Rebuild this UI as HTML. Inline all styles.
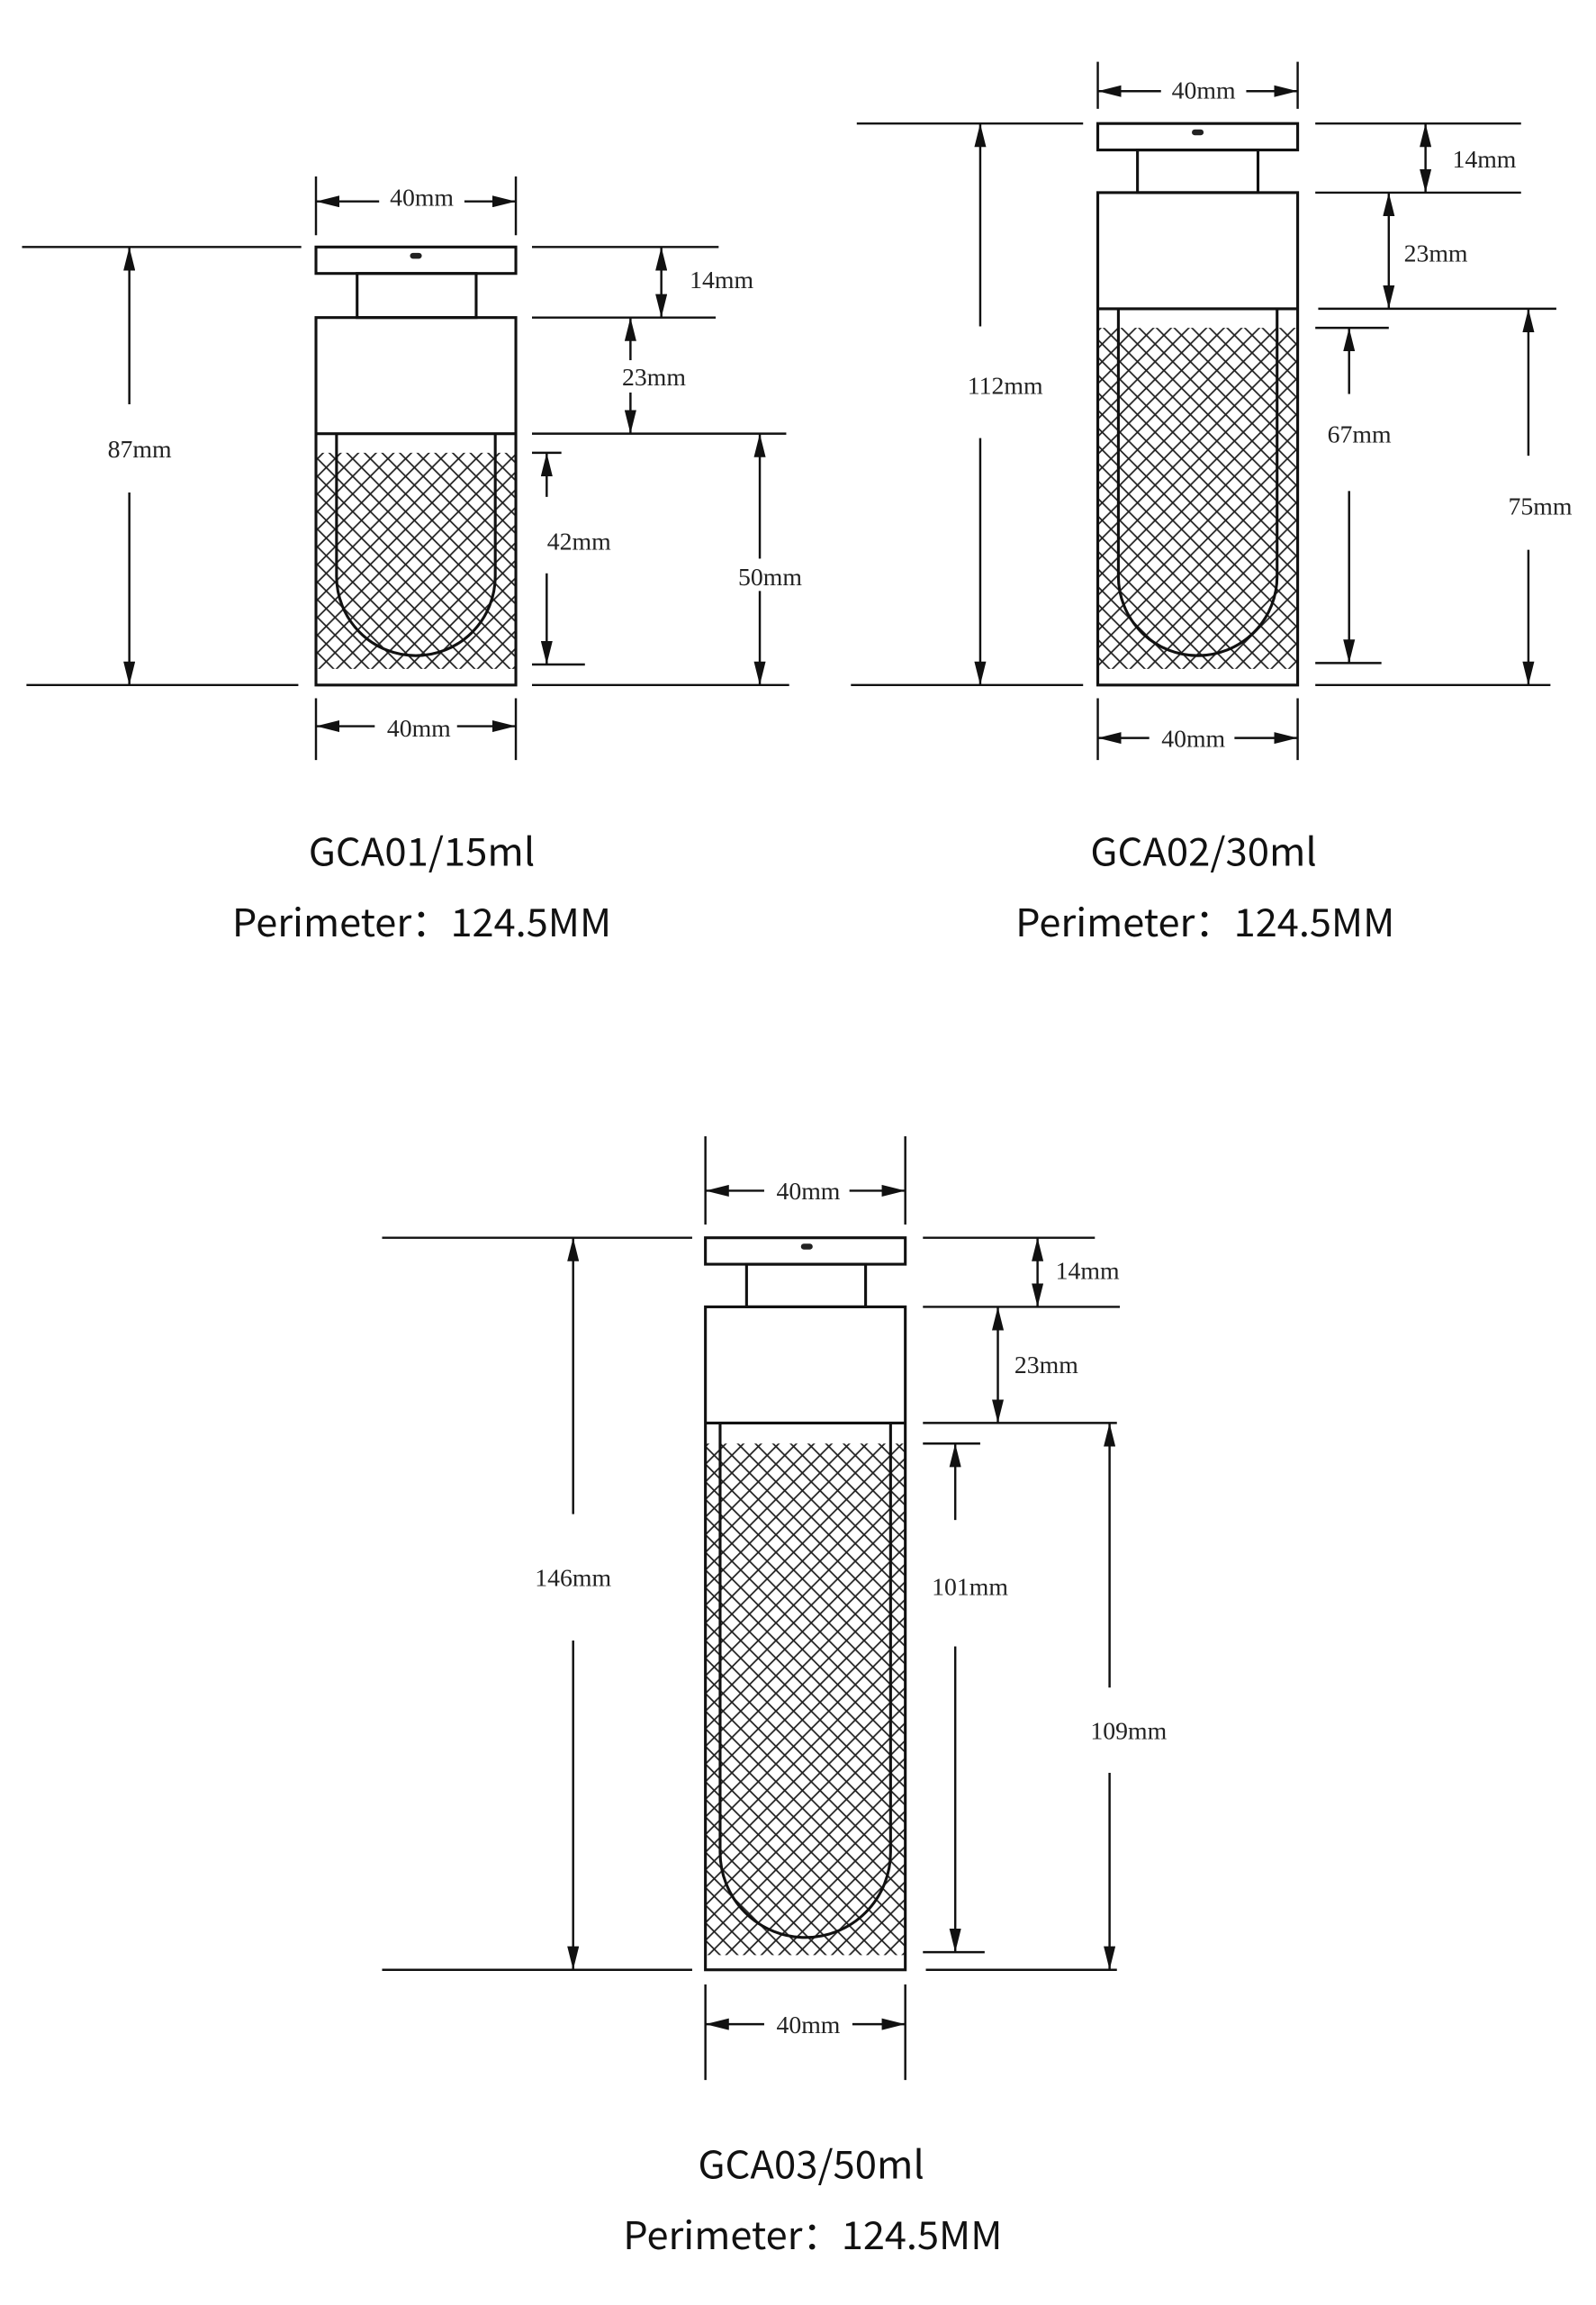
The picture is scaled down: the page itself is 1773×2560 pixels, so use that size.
<!DOCTYPE html>
<html><head><meta charset="utf-8"><style>
html,body{margin:0;padding:0;background:#fff}
svg{display:block}
.d{font-family:"Liberation Serif",serif;font-size:17px;fill:#222;text-anchor:middle}
.t{font-family:"Noto Sans CJK SC","Liberation Sans",sans-serif;font-size:26px;fill:#111;text-anchor:middle}
</style></head><body>
<svg width="1773" height="2560" viewBox="0 0 1086 1568" xmlns="http://www.w3.org/2000/svg">
<defs>
<marker id="a" viewBox="0 0 16 8" refX="16" refY="4" markerWidth="16" markerHeight="8" markerUnits="userSpaceOnUse" orient="auto-start-reverse"><path d="M0,0 L16,4 L0,8z" fill="#111"/></marker>
<pattern id="h" width="12" height="12" patternUnits="userSpaceOnUse"><path d="M0,0L12,12M12,0L0,12" stroke="#222" stroke-width="1.1" fill="none"/></pattern>
</defs>
<g stroke="#111" stroke-width="1.9" fill="none">
<rect x="215" y="308" width="136" height="147" fill="url(#h)" stroke="none"/>
<rect x="215" y="168" width="136" height="18"/>
<rect x="243" y="186" width="81" height="30"/>
<rect x="215" y="216" width="136" height="250"/>
<line x1="215" y1="295" x2="351" y2="295"/>
<path d="M229,295 V392 A54,54 0 0 0 337,392 V295"/>
<rect x="747" y="223" width="136" height="232" fill="url(#h)" stroke="none"/>
<rect x="747" y="84" width="136" height="18"/>
<rect x="774" y="102" width="82" height="29"/>
<rect x="747" y="131" width="136" height="335"/>
<line x1="747" y1="210" x2="883" y2="210"/>
<path d="M761,210 V392 A54,54 0 0 0 869,392 V210"/>
<rect x="480" y="982" width="136" height="348" fill="url(#h)" stroke="none"/>
<rect x="480" y="842" width="136" height="18"/>
<rect x="508" y="860" width="81" height="29"/>
<rect x="480" y="889" width="136" height="451"/>
<line x1="480" y1="968" x2="616" y2="968"/>
<path d="M490,968 V1260 A58,58 0 0 0 606,1260 V968"/>
</g>
<g fill="#222"><rect x="279" y="172" width="8" height="4" rx="2"/><rect x="811" y="88" width="8" height="4" rx="2"/><rect x="545" y="846" width="8" height="4" rx="2"/></g>
<g stroke="#111" stroke-width="1.5">
<line x1="215" y1="120" x2="215" y2="160"/><line x1="351" y1="120" x2="351" y2="160"/>
<line x1="15" y1="168" x2="205" y2="168"/><line x1="18" y1="466" x2="203" y2="466"/>
<line x1="362" y1="168" x2="489" y2="168"/><line x1="362" y1="216" x2="487" y2="216"/>
<line x1="362" y1="295" x2="535" y2="295"/><line x1="362" y1="308" x2="382" y2="308"/>
<line x1="362" y1="452" x2="398" y2="452"/><line x1="362" y1="466" x2="537" y2="466"/>
<line x1="215" y1="475" x2="215" y2="517"/><line x1="351" y1="475" x2="351" y2="517"/>
<line x1="747" y1="42" x2="747" y2="74"/><line x1="883" y1="42" x2="883" y2="74"/>
<line x1="583" y1="84" x2="737" y2="84"/><line x1="579" y1="466" x2="737" y2="466"/>
<line x1="895" y1="84" x2="1035" y2="84"/><line x1="895" y1="131" x2="1035" y2="131"/>
<line x1="897" y1="210" x2="1059" y2="210"/><line x1="895" y1="223" x2="945" y2="223"/>
<line x1="895" y1="451" x2="940" y2="451"/><line x1="895" y1="466" x2="1055" y2="466"/>
<line x1="747" y1="475" x2="747" y2="517"/><line x1="883" y1="475" x2="883" y2="517"/>
<line x1="480" y1="773" x2="480" y2="833"/><line x1="616" y1="773" x2="616" y2="833"/>
<line x1="260" y1="842" x2="471" y2="842"/><line x1="260" y1="1340" x2="471" y2="1340"/>
<line x1="628" y1="842" x2="745" y2="842"/><line x1="628" y1="889" x2="762" y2="889"/>
<line x1="628" y1="968" x2="760" y2="968"/><line x1="628" y1="982" x2="667" y2="982"/>
<line x1="628" y1="1328" x2="670" y2="1328"/><line x1="630" y1="1340" x2="760" y2="1340"/>
<line x1="480" y1="1350" x2="480" y2="1415"/><line x1="616" y1="1350" x2="616" y2="1415"/>
</g>
<g stroke="#111" stroke-width="1.5" marker-start="url(#a)" marker-end="url(#a)">
<line x1="215" y1="137" x2="351" y2="137"/>
<line x1="88" y1="168" x2="88" y2="466"/>
<line x1="450" y1="168" x2="450" y2="216"/>
<line x1="429" y1="216" x2="429" y2="295"/>
<line x1="372" y1="308" x2="372" y2="452"/>
<line x1="517" y1="295" x2="517" y2="466"/>
<line x1="215" y1="494" x2="351" y2="494"/>
<line x1="747" y1="62" x2="883" y2="62"/>
<line x1="667" y1="84" x2="667" y2="466"/>
<line x1="970" y1="84" x2="970" y2="131"/>
<line x1="945" y1="131" x2="945" y2="210"/>
<line x1="918" y1="223" x2="918" y2="451"/>
<line x1="1040" y1="210" x2="1040" y2="466"/>
<line x1="747" y1="502" x2="883" y2="502"/>
<line x1="480" y1="810" x2="616" y2="810"/>
<line x1="390" y1="842" x2="390" y2="1340"/>
<line x1="706" y1="842" x2="706" y2="889"/>
<line x1="679" y1="889" x2="679" y2="968"/>
<line x1="650" y1="982" x2="650" y2="1328"/>
<line x1="755" y1="968" x2="755" y2="1340"/>
<line x1="480" y1="1377" x2="616" y2="1377"/>
</g>
<g fill="#fff">
<rect x="258" y="125" width="58" height="22"/><rect x="60" y="275" width="56" height="60"/>
<rect x="414" y="245" width="60" height="22"/><rect x="362" y="338" width="60" height="52"/>
<rect x="494" y="380" width="60" height="22"/><rect x="255" y="484" width="56" height="22"/>
<rect x="790" y="50" width="58" height="22"/><rect x="650" y="222" width="70" height="76"/>
<rect x="898" y="268" width="60" height="66"/><rect x="1018" y="310" width="60" height="64"/>
<rect x="782" y="490" width="58" height="22"/>
<rect x="520" y="798" width="58" height="22"/><rect x="355" y="1030" width="70" height="86"/>
<rect x="626" y="1034" width="70" height="86"/><rect x="735" y="1148" width="68" height="58"/>
<rect x="520" y="1365" width="60" height="22"/>
</g>
<g class="d">
<text x="287" y="140">40mm</text><text x="95" y="311">87mm</text>
<text x="491" y="196">14mm</text><text x="445" y="262">23mm</text>
<text x="394" y="374">42mm</text><text x="524" y="398">50mm</text>
<text x="285" y="501">40mm</text>
<text x="819" y="67">40mm</text><text x="684" y="268">112mm</text>
<text x="1010" y="114">14mm</text><text x="977" y="178">23mm</text>
<text x="925" y="301">67mm</text><text x="1048" y="350">75mm</text>
<text x="812" y="508">40mm</text>
<text x="550" y="816">40mm</text><text x="390" y="1079">146mm</text>
<text x="740" y="870">14mm</text><text x="712" y="934">23mm</text>
<text x="660" y="1085">101mm</text><text x="768" y="1183">109mm</text>
<text x="550" y="1383">40mm</text>
</g>
<g class="t">
<text x="287" y="589" textLength="154" lengthAdjust="spacingAndGlyphs">GCA01/15ml</text>
<text x="287" y="637" textLength="258" lengthAdjust="spacingAndGlyphs">Perimeter：124.5MM</text>
<text x="819" y="589" textLength="154" lengthAdjust="spacingAndGlyphs">GCA02/30ml</text>
<text x="820" y="637" textLength="258" lengthAdjust="spacingAndGlyphs">Perimeter：124.5MM</text>
<text x="552" y="1482" textLength="154" lengthAdjust="spacingAndGlyphs">GCA03/50ml</text>
<text x="553" y="1530" textLength="258" lengthAdjust="spacingAndGlyphs">Perimeter：124.5MM</text>
</g>
</svg>
</body></html>
